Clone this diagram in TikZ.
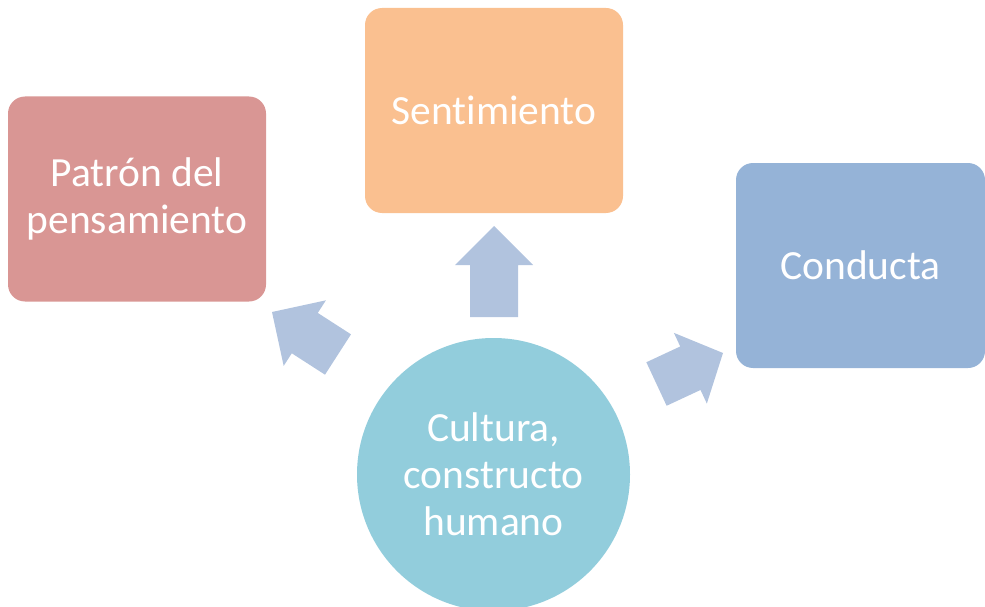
\documentclass[tikz,border=0pt]{standalone}
\usepackage{fontspec}
\setmainfont{Carlito}[Ligatures=NoCommon]
\usetikzlibrary{calc}
\definecolor{cpat}{HTML}{D99694}
\definecolor{csen}{HTML}{FAC090}
\definecolor{ccon}{HTML}{95B3D7}
\definecolor{ccir}{HTML}{92CDDC}
\definecolor{carr}{HTML}{B1C3DE}
\newcommand\myblockarrow[4]{% #1 tail, #2 tip, #3 head length, #4 name
  \coordinate (#4h) at ($(#2)!#3!(#1)$);
  \fill[arrowfill] ($(#1)!24pt!90:(#2)$) -- ($(#4h)!24pt!90:(#2)$)
    -- ($(#4h)!39pt!90:(#2)$) -- (#2) -- ($(#4h)!39pt!-90:(#2)$)
    -- ($(#4h)!24pt!-90:(#2)$) -- ($(#1)!24pt!-90:(#2)$) -- cycle;
}
\begin{document}
\begin{tikzpicture}[x=1pt,y=-1pt,
  txt/.style={align=center, text=white, font=\fontsize{41.5}{47}\selectfont},
  box/.style={txt, rectangle, rounded corners=17pt, inner sep=0pt,
    minimum width=258pt, minimum height=205pt},
  hub/.style={txt, circle, inner sep=0pt, minimum size=273pt, fill=ccir},
  arrowfill/.style={fill=carr}]
\useasboundingbox (0,0) rectangle (985,607);
\clip (0,0) rectangle (985,607);
\node[box, fill=cpat] (pat) at (137,199) {Patrón del\\pensamiento};
\node[box, fill=csen] (sen) at (494,110.5) {Sentimiento};
\node[box, fill=ccon, minimum width=249pt] (con) at (860.5,265.5) {Conducta};
\node[hub] (cul) at (493.5,474.5) {Cultura,\\constructo\\humano};
\coordinate (t1) at (494,317);   \coordinate (p1) at (494,226);
\coordinate (t2) at (338,354.5); \coordinate (p2) at (272,312);
\coordinate (t3) at (656.5,384); \coordinate (p3) at (723,353);
\myblockarrow{t1}{p1}{39pt}{a1}
\myblockarrow{t2}{p2}{39pt}{a2}
\myblockarrow{t3}{p3}{36pt}{a3}
\end{tikzpicture}
\end{document}
